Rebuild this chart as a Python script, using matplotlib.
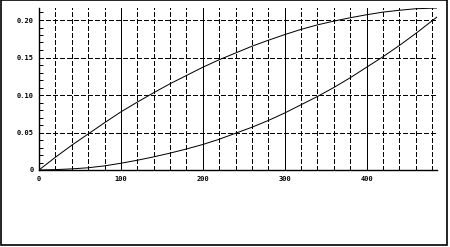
import numpy as np
import matplotlib.pyplot as plt
from matplotlib.patches import Rectangle

plt.rcParams['lines.scale_dashes'] = False

# data
x_vals = [0, 20, 40, 60, 80, 100, 120, 140, 160, 180, 200, 220, 240, 260, 280,
          300, 320, 340, 360, 380, 400, 420, 440, 460, 486]
curve_a = [0.0, 0.017, 0.033, 0.048, 0.063, 0.0775, 0.0905, 0.103, 0.115, 0.126,
           0.137, 0.147, 0.156, 0.165, 0.173, 0.1805, 0.1875, 0.1935, 0.1985, 0.203,
           0.207, 0.2105, 0.213, 0.215, 0.216]
curve_b = [0.0, 0.0005, 0.0015, 0.003, 0.0055, 0.009, 0.013, 0.0175, 0.0225, 0.028,
           0.034, 0.041, 0.049, 0.057, 0.066, 0.076, 0.087, 0.098, 0.110, 0.123,
           0.137, 0.151, 0.166, 0.182, 0.204]
x_major = [0, 100, 200, 300, 400]
x_minor = [20, 40, 60, 80, 120, 140, 160, 180, 220, 240, 260, 280,
           320, 340, 360, 380, 420, 440, 460, 480]
y_major = [0, 0.05, 0.10, 0.15, 0.20]
y_labels = ['0', '0.05', '0.10', '0.15', '0.20']
x_labels = ['0', '100', '200', '300', '400']

fig = plt.figure(figsize=(4.5, 2.47), dpi=100)
ax = fig.add_axes([39/450, 77/247, 398/450, 162/247])

# outer frame
fig.patches.append(Rectangle((0.5/450, 2.5/247), 446/450, 244/247, transform=fig.transFigure,
                             fill=False, edgecolor='k', lw=1.2))

ax.set_xlim(0, 486)
ax.set_ylim(0, 0.216)

dash = (0, (3.2, 1.9))
for xv in x_minor:
    ax.axvline(xv, color='k', lw=0.72, ls=dash, antialiased=False)
for xv in x_major[1:]:
    ax.axvline(xv, color='k', lw=0.72, antialiased=False)
for yv in y_major[1:]:
    ax.axhline(yv, color='k', lw=0.72, ls=dash, antialiased=False)

ax.plot(x_vals, curve_a, color='k', lw=0.72)
ax.plot(x_vals, curve_b, color='k', lw=0.72)

ax.spines['top'].set_visible(False)
ax.spines['right'].set_visible(False)
for s in ['left', 'bottom']:
    ax.spines[s].set_linewidth(1.0)

ax.set_xticks(x_major)
ax.set_xticklabels(x_labels)
ax.set_yticks(y_major)
ax.set_yticklabels(y_labels)
ax.set_yticks(np.arange(0.01, 0.216, 0.01), minor=True)
ax.tick_params(axis='x', length=0, pad=4)
ax.tick_params(axis='y', which='major', length=0, pad=4)
ax.tick_params(axis='y', which='minor', direction='in', length=3, width=0.72)
for lab in ax.get_xticklabels() + ax.get_yticklabels():
    lab.set_fontfamily('DejaVu Sans Mono')
    lab.set_fontsize(5)
    lab.set_fontweight('bold')

fig.savefig('out.png', dpi=100)
